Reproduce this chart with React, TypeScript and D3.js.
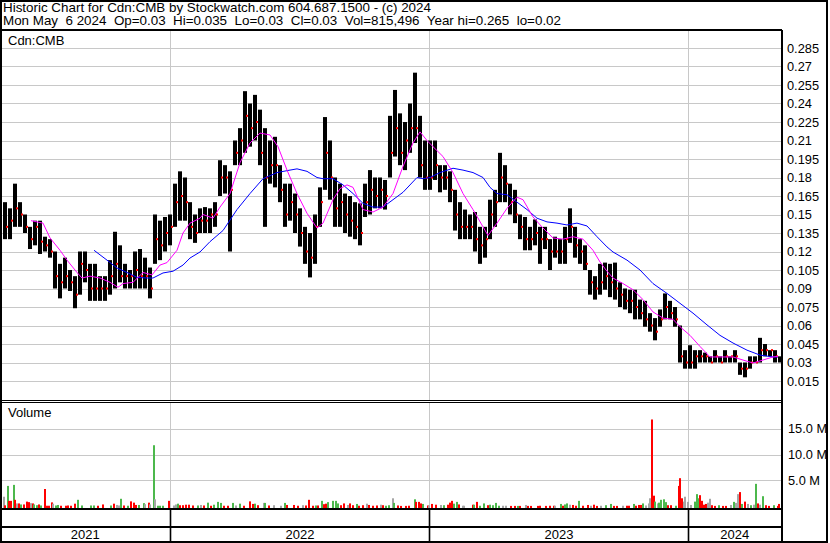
import * as d3 from "d3";

const W = 830;
const H = 543;

const HEADER_1 = "Historic Chart for Cdn:CMB by Stockwatch.com 604.687.1500 - (c) 2024";
const HEADER_2 = "Mon May  6 2024  Op=0.03  Hi=0.035  Lo=0.03  Cl=0.03  Vol=815,496  Year hi=0.265  lo=0.02";
const SYMBOL = "Cdn:CMB";

// price bars, one per 5 sessions
const SESSIONS_PER_BAR = 5;
const highs = [
  0.16, 0.155, 0.175, 0.16, 0.15, 0.14, 0.145, 0.145, 0.132, 0.13,
  0.12, 0.11, 0.115, 0.105, 0.1, 0.12, 0.12, 0.11, 0.11, 0.1,
  0.1, 0.113, 0.136, 0.125, 0.11, 0.105, 0.12, 0.122, 0.115, 0.107,
  0.15, 0.145, 0.148, 0.15, 0.175, 0.185, 0.18, 0.16, 0.15, 0.155,
  0.156, 0.155, 0.16, 0.194, 0.19, 0.185, 0.21, 0.22, 0.25, 0.24,
  0.247, 0.235, 0.22, 0.21, 0.213, 0.19, 0.175, 0.175, 0.167, 0.155,
  0.14, 0.135, 0.15, 0.172, 0.229, 0.21, 0.18, 0.175, 0.167, 0.165,
  0.16, 0.159, 0.175, 0.186, 0.18, 0.18, 0.178, 0.23, 0.251, 0.232,
  0.225, 0.24, 0.265, 0.23, 0.21, 0.21, 0.21, 0.19, 0.19, 0.185,
  0.17, 0.16, 0.154, 0.15, 0.152, 0.14, 0.14, 0.162, 0.17, 0.2,
  0.19, 0.175, 0.17, 0.15, 0.148, 0.14, 0.146, 0.14, 0.14, 0.13,
  0.132, 0.13, 0.14, 0.155, 0.14, 0.13, 0.125, 0.105, 0.1, 0.11,
  0.111, 0.11, 0.111, 0.095, 0.09, 0.089, 0.089, 0.081, 0.08, 0.07,
  0.066, 0.073, 0.086, 0.08, 0.075, 0.06, 0.04, 0.044, 0.04, 0.04,
  0.038, 0.035, 0.04, 0.035, 0.04, 0.035, 0.04, 0.03, 0.03, 0.035,
  0.035, 0.05, 0.045, 0.04, 0.04, 0.035,
];
const lows = [
  0.13, 0.13, 0.14, 0.14, 0.135, 0.122, 0.125, 0.118, 0.12, 0.115,
  0.09, 0.082, 0.09, 0.088, 0.074, 0.085, 0.095, 0.08, 0.08, 0.08,
  0.08, 0.085, 0.09, 0.095, 0.09, 0.09, 0.09, 0.09, 0.09, 0.082,
  0.11, 0.113, 0.12, 0.125, 0.14, 0.145, 0.145, 0.13, 0.127, 0.135,
  0.135, 0.135, 0.14, 0.165, 0.167, 0.12, 0.19, 0.19, 0.2, 0.205,
  0.21, 0.19, 0.14, 0.175, 0.172, 0.16, 0.14, 0.145, 0.135, 0.124,
  0.11, 0.099, 0.11, 0.14, 0.17, 0.162, 0.14, 0.14, 0.135, 0.132,
  0.13, 0.125, 0.148, 0.15, 0.155, 0.155, 0.154, 0.18, 0.197, 0.19,
  0.186, 0.2, 0.208, 0.18, 0.17, 0.17, 0.178, 0.168, 0.17, 0.16,
  0.137, 0.13, 0.13, 0.13, 0.12, 0.11, 0.115, 0.13, 0.14, 0.16,
  0.16, 0.15, 0.143, 0.13, 0.121, 0.121, 0.125, 0.11, 0.122, 0.105,
  0.115, 0.11, 0.11, 0.127, 0.115, 0.11, 0.105, 0.085, 0.081, 0.085,
  0.089, 0.083, 0.081, 0.075, 0.073, 0.07, 0.065, 0.065, 0.059, 0.055,
  0.048, 0.059, 0.065, 0.065, 0.059, 0.03, 0.025, 0.025, 0.025, 0.03,
  0.03, 0.03, 0.03, 0.03, 0.03, 0.03, 0.03, 0.02, 0.018, 0.025,
  0.03, 0.03, 0.035, 0.035, 0.03, 0.03,
];
const closes = [
  0.14, 0.145, 0.155, 0.15, 0.14, 0.13, 0.14, 0.128, 0.125, 0.12,
  0.1, 0.095, 0.1, 0.095, 0.085, 0.11, 0.105, 0.09, 0.09, 0.09,
  0.09, 0.1, 0.11, 0.1, 0.1, 0.1, 0.105, 0.1, 0.1, 0.09,
  0.13, 0.125, 0.135, 0.14, 0.16, 0.165, 0.16, 0.14, 0.135, 0.145,
  0.145, 0.15, 0.15, 0.18, 0.18, 0.17, 0.2, 0.21, 0.23, 0.22,
  0.225, 0.2, 0.18, 0.19, 0.19, 0.17, 0.15, 0.16, 0.15, 0.135,
  0.12, 0.115, 0.14, 0.16, 0.2, 0.18, 0.155, 0.16, 0.15, 0.145,
  0.14, 0.135, 0.16, 0.17, 0.165, 0.17, 0.165, 0.2, 0.22, 0.2,
  0.21, 0.22, 0.22, 0.19, 0.18, 0.18, 0.19, 0.18, 0.18, 0.17,
  0.15, 0.14, 0.14, 0.14, 0.13, 0.125, 0.13, 0.15, 0.16, 0.18,
  0.175, 0.16, 0.15, 0.14, 0.13, 0.13, 0.135, 0.13, 0.13, 0.12,
  0.12, 0.12, 0.13, 0.14, 0.125, 0.12, 0.11, 0.095, 0.09, 0.095,
  0.1, 0.095, 0.09, 0.085, 0.08, 0.08, 0.075, 0.07, 0.065, 0.06,
  0.055, 0.065, 0.075, 0.07, 0.065, 0.035, 0.03, 0.03, 0.035, 0.035,
  0.035, 0.03, 0.035, 0.03, 0.035, 0.035, 0.035, 0.025, 0.025, 0.03,
  0.03, 0.04, 0.04, 0.04, 0.035, 0.03,
];

// moving averages: [session, price]
const maShort: [number, number][] = [
  [28, 0.145], [40, 0.143], [47, 0.131], [57, 0.121], [64, 0.113], [74, 0.103], [79, 0.0985],
  [87, 0.1], [97, 0.0985], [107, 0.095], [115, 0.091], [120, 0.094], [130, 0.095], [140, 0.103],
  [149, 0.101], [157, 0.109], [164, 0.111], [174, 0.121], [180, 0.135], [187, 0.143], [197, 0.147],
  [200, 0.15], [210, 0.147], [217, 0.156], [227, 0.167], [237, 0.192], [247, 0.208], [257, 0.216],
  [267, 0.2145], [275, 0.205], [284, 0.186], [294, 0.167], [304, 0.151], [314, 0.139], [320, 0.143],
  [330, 0.162], [337, 0.171], [344, 0.174], [350, 0.172], [360, 0.154], [370, 0.152], [380, 0.156],
  [390, 0.167], [400, 0.189], [410, 0.208], [417, 0.217], [424, 0.21], [430, 0.205], [440, 0.197],
  [450, 0.184], [460, 0.167], [470, 0.154], [480, 0.14], [485, 0.133], [494, 0.143], [504, 0.155],
  [514, 0.164], [520, 0.162], [530, 0.148], [540, 0.139], [550, 0.131], [560, 0.13], [570, 0.132],
  [580, 0.13], [590, 0.121], [597, 0.1115], [603, 0.105], [610, 0.0985], [620, 0.094], [630, 0.089],
  [640, 0.081], [650, 0.071], [660, 0.066], [670, 0.065], [677, 0.059], [687, 0.052], [697, 0.043],
  [707, 0.0345], [720, 0.0345], [730, 0.0345], [740, 0.032], [750, 0.0296], [760, 0.032],
  [770, 0.0345], [775, 0.035],
];
const maLong: [number, number][] = [
  [91, 0.121], [104, 0.113], [114, 0.1066], [124, 0.103], [134, 0.099], [144, 0.0985], [150, 0.0985],
  [160, 0.1026], [170, 0.104], [180, 0.109], [187, 0.1147], [197, 0.1196], [207, 0.128], [220, 0.137],
  [234, 0.154], [247, 0.167], [260, 0.179], [274, 0.184], [287, 0.186], [294, 0.187], [304, 0.185],
  [314, 0.18], [320, 0.179], [330, 0.179], [340, 0.174], [350, 0.167], [360, 0.159], [370, 0.156],
  [380, 0.156], [390, 0.162], [400, 0.168], [414, 0.18], [420, 0.179], [427, 0.18], [437, 0.184],
  [450, 0.1875], [460, 0.186], [470, 0.184], [480, 0.18], [487, 0.172], [494, 0.167], [504, 0.166],
  [514, 0.16], [524, 0.154], [534, 0.147], [544, 0.144], [554, 0.143], [564, 0.1415], [574, 0.143],
  [584, 0.1407], [594, 0.132], [604, 0.1237], [610, 0.1196], [624, 0.113], [637, 0.105], [650, 0.094],
  [664, 0.086], [677, 0.078], [690, 0.07], [704, 0.0605], [717, 0.052], [730, 0.0458], [744, 0.04],
  [757, 0.036], [770, 0.0345], [775, 0.0345],
];

// volume: [session, millions, u=up d=down n=unchanged]
const volumes: [number, number, string][] = [
  [0, 1.8, "n"], [1, 0.13, "d"], [4, 3.9, "u"], [5, 1.0, "d"], [7, 1.0, "d"], [10, 4.1, "u"], [11, 1.2, "d"],
  [13, 0.5, "n"], [15, 0.5, "d"], [17, 0.3, "u"], [20, 0.3, "d"], [23, 0.85, "d"], [25, 0.75, "d"],
  [27, 0.55, "n"], [29, 0.5, "d"], [30, 0.3, "u"], [33, 0.15, "u"], [35, 0.3, "d"], [37, 0.1, "u"],
  [41, 3.3, "d"], [43, 0.05, "d"], [45, 0.05, "d"], [48, 0.7, "d"], [49, 0.45, "n"], [52, 0.1, "u"],
  [54, 0.2, "u"], [57, 0.05, "d"], [62, 0.05, "d"], [64, 0.1, "d"], [67, 0.05, "d"], [71, 0.45, "d"],
  [74, 1.2, "u"], [78, 0.1, "u"], [87, 0.1, "u"], [90, 0.1, "u"], [94, 0.05, "d"], [99, 0.3, "d"],
  [107, 0.1, "u"], [110, 0.45, "d"], [113, 0.2, "n"], [115, 0.1, "n"], [117, 1.4, "u"], [120, 0.1, "d"],
  [124, 0.05, "u"], [127, 0.9, "d"], [130, 0.65, "d"], [132, 0.2, "d"], [135, 0.2, "u"], [140, 0.55, "u"],
  [141, 0.35, "n"], [145, 0.65, "d"], [146, 0.3, "n"], [150, 11.8, "u"], [151, 1.3, "n"], [154, 0.05, "u"],
  [156, 0.05, "u"], [159, 0.05, "u"], [165, 1.0, "d"], [170, 0.1, "n"], [172, 0.3, "n"], [174, 0.45, "u"],
  [176, 0.15, "d"], [179, 0.15, "d"], [182, 0.25, "d"], [185, 0.25, "d"], [189, 0.1, "d"], [194, 0.1, "u"],
  [197, 0.2, "n"], [200, 0.1, "d"], [204, 0.65, "u"], [207, 0.05, "d"], [210, 0.25, "u"], [214, 0.8, "u"],
  [217, 0.6, "u"], [220, 0.05, "d"], [224, 0.05, "d"], [229, 0.6, "u"], [232, 0.1, "n"], [236, 0.45, "u"],
  [240, 0.05, "d"], [246, 0.9, "d"], [249, 0.4, "d"], [251, 0.45, "u"], [254, 0.15, "d"], [260, 0.6, "n"],
  [261, 0.6, "u"], [265, 0.1, "d"], [270, 0.15, "n"], [277, 0.05, "n"], [281, 0.6, "u"], [283, 0.2, "d"],
  [290, 0.2, "d"], [294, 0.05, "d"], [299, 0.15, "n"], [302, 0.1, "d"], [305, 1.2, "d"], [309, 0.05, "d"],
  [312, 0.1, "u"], [314, 0.1, "d"], [318, 1.0, "u"], [320, 0.35, "d"], [322, 0.45, "d"], [324, 0.75, "u"],
  [329, 1.0, "u"], [332, 1.0, "u"], [334, 0.5, "u"], [337, 0.15, "d"], [340, 0.5, "d"], [344, 0.2, "n"],
  [346, 0.5, "d"], [349, 0.15, "d"], [353, 0.4, "u"], [355, 0.05, "d"], [359, 0.15, "d"], [363, 0.45, "n"],
  [365, 0.2, "d"], [369, 0.05, "d"], [373, 0.1, "d"], [377, 0.25, "n"], [379, 0.15, "d"], [382, 0.05, "u"],
  [385, 0.15, "u"], [389, 1.5, "n"], [390, 0.6, "u"], [394, 0.1, "d"], [397, 0.02, "d"], [402, 0.02, "d"],
  [405, 0.05, "d"], [411, 1.3, "u"], [412, 0.8, "d"], [415, 0.8, "d"], [417, 0.5, "d"], [419, 0.4, "u"],
  [424, 0.1, "d"], [425, 0.1, "n"], [428, 0.4, "d"], [432, 0.25, "d"], [437, 0.2, "n"], [440, 0.15, "u"],
  [444, 0.25, "d"], [446, 0.65, "d"], [448, 1.0, "d"], [450, 0.45, "u"], [453, 0.8, "u"], [455, 0.3, "d"],
  [459, 0.05, "n"], [460, 0.05, "n"], [469, 0.25, "d"], [470, 0.25, "u"], [473, 0.8, "d"], [476, 0.05, "u"],
  [480, 0.5, "u"], [484, 0.15, "d"], [486, 0.25, "u"], [489, 0.15, "u"], [492, 0.6, "u"], [495, 0.05, "u"],
  [499, 0.05, "n"], [502, 0.05, "n"], [507, 0.02, "d"], [511, 0.02, "d"], [514, 0.02, "u"], [516, 0.02, "d"],
  [522, 0.2, "n"], [524, 0.02, "d"], [527, 0.02, "d"], [534, 0.02, "d"], [536, 0.05, "d"], [542, 0.02, "d"],
  [546, 0.05, "d"], [550, 0.05, "d"], [551, 0.05, "n"], [557, 0.4, "u"], [559, 0.05, "d"], [561, 0.3, "u"],
  [563, 0.5, "u"], [566, 0.25, "n"], [569, 0.2, "d"], [572, 0.05, "d"], [575, 1.0, "u"], [579, 0.05, "d"],
  [584, 0.2, "d"], [587, 0.05, "n"], [590, 0.25, "d"], [593, 0.02, "d"], [597, 0.05, "n"], [602, 0.15, "u"],
  [607, 0.4, "u"], [610, 0.02, "d"], [613, 0.02, "d"], [619, 0.05, "n"], [623, 0.05, "d"], [625, 0.05, "d"],
  [630, 0.4, "u"], [632, 0.05, "d"], [635, 0.2, "d"], [637, 0.2, "d"], [639, 0.5, "u"], [642, 0.1, "n"],
  [645, 0.5, "n"], [646, 1.5, "n"], [648, 16.8, "d"], [650, 2.0, "d"], [651, 0.85, "u"], [654, 0.5, "n"],
  [655, 0.65, "u"], [657, 1.2, "u"], [660, 1.3, "u"], [662, 0.75, "u"], [664, 0.15, "d"], [667, 0.15, "d"],
  [672, 0.05, "u"], [675, 3.9, "d"], [676, 5.4, "d"], [678, 1.5, "d"], [680, 0.85, "n"], [681, 1.8, "n"],
  [684, 0.8, "n"], [687, 0.2, "n"], [691, 0.85, "u"], [693, 2.3, "u"], [694, 1.5, "u"], [696, 2.1, "d"],
  [698, 1.0, "d"], [700, 0.25, "d"], [702, 0.4, "d"], [704, 0.65, "n"], [706, 1.4, "n"], [708, 0.15, "d"],
  [711, 0.02, "d"], [715, 0.15, "u"], [719, 0.02, "d"], [722, 0.02, "d"], [727, 0.2, "n"], [730, 0.8, "u"],
  [732, 0.6, "n"], [734, 2.3, "n"], [736, 2.7, "d"], [738, 0.4, "u"], [741, 0.85, "d"], [744, 0.4, "n"],
  [747, 0.15, "u"], [750, 0.25, "n"], [752, 4.3, "u"], [754, 0.5, "d"], [756, 0.25, "n"], [759, 1.9, "u"],
  [762, 0.15, "d"], [765, 0.02, "d"], [770, 0.15, "u"], [774, 0.02, "d"], [775, 0.4, "d"],
];

const years = ["2021", "2022", "2023", "2024"];
const yearBounds = [-3, 167.5, 426.5, 685.5, 778];
const priceTicks = d3.range(1, 20).map((i) => +(i * 0.015).toFixed(3));
const volumeTicks = [5, 10, 15];

const FONT = "'Liberation Sans', Arial, sans-serif";
const VOL_COLORS: Record<string, string> = { u: "#4cb84c", d: "#ff0000", n: "#a6a6a6" };
const GRID = "#c8c8c8";

export default function App() {
  const plotRight = 782;
  const x = d3.scaleLinear().domain([0, 778]).range([3, 781]);
  const y = d3.scaleLinear().domain([0, 0.3]).range([399.5, 29.5]);
  const yv = d3.scaleLinear().domain([0, 20]).range([506, 403]);

  const line = d3
    .line<[number, number]>()
    .x((d) => x(d[0]))
    .y((d) => y(d[1]));

  return (
    <svg
      width={W}
      height={H}
      style={{ position: "absolute", left: 0, top: 0, background: "#fff" }}
      fontFamily={FONT}
    >
      <rect x={0} y={0} width={W} height={H} fill="#fff" />

      {/* header */}
      <text x={3} y={11.5} fontSize={13.4} fill="#000" xmlSpace="preserve">
        {HEADER_1}
      </text>
      <text x={3} y={25} fontSize={13.4} fill="#000" xmlSpace="preserve">
        {HEADER_2}
      </text>

      {/* price grid */}
      {priceTicks.map((p) => (
        <line key={p} x1={2} x2={plotRight} y1={Math.round(y(p)) + 0.5} y2={Math.round(y(p)) + 0.5} stroke={GRID} />
      ))}
      {/* volume grid */}
      {volumeTicks.map((v) => (
        <line key={v} x1={2} x2={plotRight} y1={Math.round(yv(v)) + 0.5} y2={Math.round(yv(v)) + 0.5} stroke={GRID} />
      ))}
      {yearBounds.slice(1, -1).map((b) => (
        <g key={b}>
          <line x1={x(b)} x2={x(b)} y1={30} y2={400} stroke={GRID} />
          <line x1={x(b)} x2={x(b)} y1={402} y2={508} stroke={GRID} />
          <line x1={x(b)} x2={x(b)} y1={509} y2={542} stroke="#000" strokeWidth={1.6} />
        </g>
      ))}

      {/* price bars */}
      {highs.map((hi, i) => {
        const x0 = x(i * SESSIONS_PER_BAR);
        const top = y(hi);
        const h = Math.max(1, y(lows[i]) - top);
        return (
          <g key={i}>
            <rect x={x0} y={top} width={4} height={h} fill="#000" />
            <rect x={x0 + 3} y={y(closes[i]) - 1} width={2} height={2} fill="#ff0000" />
          </g>
        );
      })}

      {/* moving averages */}
      <path d={line(maLong) ?? ""} fill="none" stroke="#0000ff" strokeWidth={1} />
      <path d={line(maShort) ?? ""} fill="none" stroke="#ff00ff" strokeWidth={1} />

      {/* volume bars */}
      {volumes.map(([s, v, k], i) => {
        const top = yv(v);
        return <rect key={i} x={x(s)} y={top} width={2} height={508 - top} fill={VOL_COLORS[k]} />;
      })}

      {/* frame */}
      <line x1={0} x2={plotRight} y1={30} y2={30} stroke="#000" strokeWidth={2} />
      <line x1={0} x2={plotRight} y1={400.5} y2={400.5} stroke="#000" strokeWidth={1} />
      <line x1={0} x2={plotRight} y1={402.5} y2={402.5} stroke="#000" strokeWidth={1} />
      <line x1={0} x2={plotRight} y1={509} y2={509} stroke="#000" strokeWidth={2} />
      <line x1={0} x2={plotRight} y1={527} y2={527} stroke="#000" strokeWidth={2} />
      <line x1={plotRight} x2={plotRight} y1={30} y2={H} stroke="#000" strokeWidth={2} />
      <rect x={1} y={1} width={826} height={541} fill="none" stroke="#000" strokeWidth={2} />

      {/* labels */}
      <text x={8} y={45} fontSize={13} fill="#000">{SYMBOL}</text>
      <text x={8} y={417} fontSize={13} fill="#000">Volume</text>

      {priceTicks.map((p) => (
        <text key={p} x={787} y={y(p)} dy="0.36em" fontSize={12.8} fill="#000">
          {d3.format("")(p)}
        </text>
      ))}
      {volumeTicks.map((v) => (
        <text key={v} x={788} y={yv(v)} dy="0.36em" fontSize={12.8} fill="#000">
          {`${v.toFixed(1)} M`}
        </text>
      ))}
      {years.map((yr, i) => (
        <text
          key={yr}
          x={(x(yearBounds[i]) + x(yearBounds[i + 1])) / 2}
          y={539}
          fontSize={13}
          textAnchor="middle"
          fill="#000"
        >
          {yr}
        </text>
      ))}
    </svg>
  );
}
